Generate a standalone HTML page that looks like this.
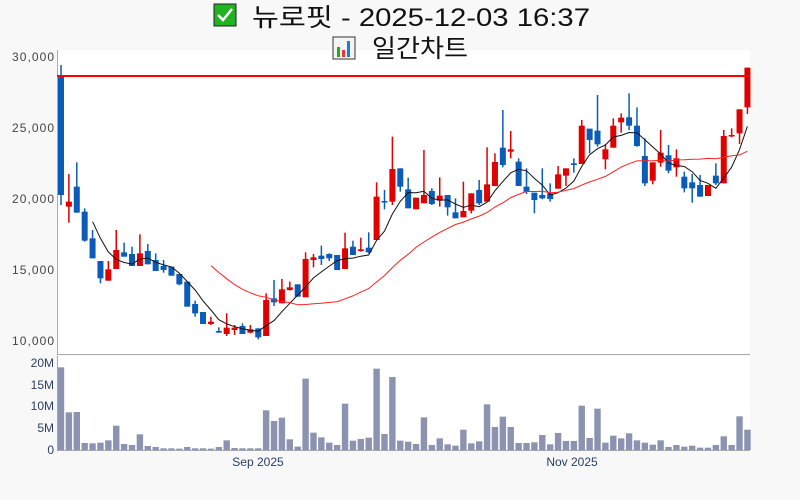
<!DOCTYPE html>
<html><head><meta charset="utf-8">
<style>
html,body{margin:0;padding:0;background:#f8f8f8;}
body{width:800px;height:500px;overflow:hidden;font-family:"Liberation Sans","Noto Sans CJK KR",sans-serif;}
</style></head>
<body>
<svg id="s" width="800" height="500" xmlns="http://www.w3.org/2000/svg" style="position:absolute;left:0;top:0">
<rect x="0" y="0" width="800" height="500" fill="#f8f8f8"/>
<rect x="57" y="50" width="693" height="304" fill="#fff"/>
<rect x="57" y="356" width="693" height="94" fill="#fff"/>
<line x1="57.5" y1="50" x2="57.5" y2="354" stroke="#aaa" stroke-width="1"/>
<line x1="57" y1="354.5" x2="750" y2="354.5" stroke="#aaa" stroke-width="1"/>
<line x1="57.5" y1="356" x2="57.5" y2="450" stroke="#aaa" stroke-width="1"/>
<line x1="57" y1="450.5" x2="750" y2="450.5" stroke="#aaa" stroke-width="1"/>
<g font-size="12" fill="#444" text-anchor="end">
<text x="54" y="61" textLength="42">30,000</text>
<text x="54" y="132" textLength="42">25,000</text>
<text x="54" y="203" textLength="42">20,000</text>
<text x="54" y="274" textLength="42">15,000</text>
<text x="54" y="345" textLength="42">10,000</text>
</g>
<g font-size="12" fill="#2a3f5f" text-anchor="end">
<text x="54" y="367">20M</text>
<text x="54" y="389">15M</text>
<text x="54" y="410">10M</text>
<text x="54" y="432">5M</text>
<text x="54" y="454">0</text>
</g>
<g font-size="12" fill="#2a3f5f" text-anchor="middle">
<text x="258" y="466">Sep 2025</text>
<text x="572" y="466">Nov 2025</text>
</g>
<rect x="214" y="4" width="22" height="22" fill="#22b322" stroke="#222" stroke-width="1"/>
<path d="M218 15 L223 20 L232 9" stroke="#fff" stroke-width="2.5" fill="none"/>
<text x="252" y="26" font-size="25" fill="#111" textLength="338" lengthAdjust="spacingAndGlyphs">뉴로핏 - 2025-12-03 16:37</text>
<rect x="333" y="37" width="22" height="22" fill="#f4f4f4" stroke="#333" stroke-width="1"/>
<rect x="337" y="47" width="3" height="10" fill="#2a2"/>
<rect x="342" y="50" width="3" height="7" fill="#e33"/>
<rect x="347" y="41" width="3" height="16" fill="#27d"/>
<text x="372" y="57" font-size="25" fill="#111" textLength="96" lengthAdjust="spacingAndGlyphs">일간차트</text>
<g id="c"></g>
<line x1="57" y1="76" x2="750" y2="76" stroke="#f00" stroke-width="2"/>
</svg>
<script>
var d=[
['b',80,435,45,465],['r',455,470,372,518],['b',410,488,337,488],['b',485,572,475,575],['b',565,625,540,625],
['b',633,685,633,700],['r',658,692,633,692],['r',600,657,540,657],['b',607,620,578,620],['b',612,648,590,648],
['r',610,648,553,648],['b',603,643,582,643],['b',630,663,610,663],['b',648,660,630,668],['b',650,677,650,677],
['b',672,703,672,706],['b',695,770,695,770],['b',762,790,752,800],['b',786,822,786,822],['r',815,822,800,825],
['b',843,848,832,848],['r',833,852,790,858],['r',833,840,825,855],['b',828,852,820,852],['r',838,848,825,850],
['b',835,862,835,868],['r',750,858,730,858],['b',745,757,690,768],['r',718,760,687,760],['r',712,720,695,722],
['b',703,740,703,740],['r',627,742,607,742],['r',622,630,612,652],['b',617,627,587,645],['b',612,625,610,633],
['b',615,660,615,660],['r',595,657,548,657],['b',590,615,572,615],['r',598,603,563,605],['b',593,607,547,610],
['r',440,570,397,570],['b',453,457,420,478],['r',357,455,260,465],['b',355,410,355,425],
['b',418,475,383,475],['r',443,478,443,478],['r',435,460,300,460],['b',423,462,415,465],['r',437,452,382,470],
['b',435,472,435,497],['b',487,505,445,505],['r',483,502,395,502],['r',430,482,430,490],['b',420,460,390,465],
['r',403,455,292,455],['r',336,408,310,408],['b',293,345,180,352],['r',298,305,243,325],['b',335,408,325,408],
['b',410,425,355,432],['b',428,450,428,490],['b',435,445,355,448],['b',430,447,400,455],['r',373,416,348,416],
['r',355,377,355,408],['b',340,345,325,368],['r',227,342,210,342],['b',236,270,236,310],['b',242,283,135,290],
['r',298,328,283,358],['r',227,293,205,293],['r',203,217,190,248],['b',202,227,130,240],['b',227,288,172,290],
['b',318,400,265,408],['r',337,392,337,403],['r',308,338,240,350],['b',316,362,285,370],['r',325,352,298,380],
['b',380,415,365,427],['b',397,415,372,458],['b',405,440,375,440],['r',405,438,405,438],['b',377,400,340,405],
['r',258,400,240,400],['r',255,258,235,262],['r',178,250,178,282],['r',53,172,53,192]];
var v=[37,172,171,264,265,263,256,212,267,270,238,273,276,280,280,281,276,280,280,281,276,256,279,280,280,280,166,198,188,253,275,71,233,247,263,270,146,257,252,248,41,237,66,
257,260,267,187,270,250,268,272,224,265,259,148,216,185,216,264,264,262,240,268,234,258,258,152,249,161,263,242,250,235,256,263,269,256,276,270,275,272,278,278,270,244,270,184,224];
var h='',cl=[],xs=[];
function Y(z){return 50+z/3;}
for(var i=0;i<d.length;i++){
 var c=d[i],x=61+i*7.89,col=c[0]=='r'?'#e00000':'#0a5cb8';xs.push(x);
 var bt=Y(c[1]),bb=Y(c[2]);if(bb-bt<1.5)bb=bt+1.5;
 h+='<line x1="'+x+'" x2="'+x+'" y1="'+Y(c[3])+'" y2="'+Y(c[4])+'" stroke="'+col+'" stroke-width="1.5"/>';
 h+='<rect x="'+(x-3)+'" y="'+bt+'" width="6" height="'+(bb-bt)+'" fill="'+col+'"/>';
 cl.push(c[0]=='r'?Y(c[1]):Y(c[2]));
 var vt=355+v[i]/3;
 h+='<rect x="'+(x-3.2)+'" y="'+vt+'" width="6.4" height="'+(450-vt)+'" fill="#8b93b0"/>';
}
function ma(n){var p=[];for(var i=n-1;i<cl.length;i++){var s=0;for(var j=i-n+1;j<=i;j++)s+=cl[j];p.push(xs[i].toFixed(1)+','+(s/n).toFixed(1));}return p.join(' ');}
h+='<polyline points="'+ma(5)+'" fill="none" stroke="#111" stroke-width="1"/>';
h+='<polyline points="'+ma(20)+'" fill="none" stroke="#f22" stroke-width="1"/>';
document.getElementById('c').innerHTML=h;
</script>
</body></html>
